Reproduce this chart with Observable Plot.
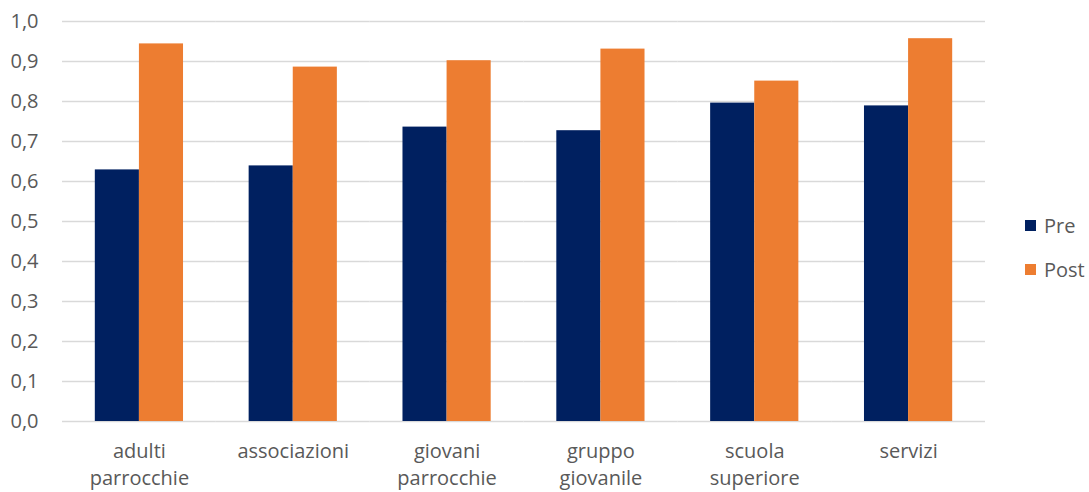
<!DOCTYPE html>
<html>
<head>
<meta charset="utf-8">
<script src="https://cdn.jsdelivr.net/npm/d3@7"></script>
<script src="https://cdn.jsdelivr.net/npm/@observablehq/plot@0.6"></script>
<style>
  html, body { margin: 0; padding: 0; background: #fff; }
  #wrap { position: relative; width: 1089px; height: 492px; font-family: "Open Sans", sans-serif; color: #595959; }
  #legend { position: absolute; left: 1025px; top: 210px; font-size: 20px; }
  .item { display: flex; align-items: center; height: 30px; margin-bottom: 14px; }
  .sw { width: 11px; height: 11px; margin-right: 8px; }
</style>
</head>
<body>
<div id="wrap"><div id="legend"></div></div>
<script>
const categories = ["adulti\nparrocchie", "associazioni", "giovani\nparrocchie", "gruppo\ngiovanile", "scuola\nsuperiore", "servizi"];
const series = ["Pre", "Post"];
const preValues = [0.629, 0.639, 0.736, 0.727, 0.796, 0.789];
const postValues = [0.944, 0.886, 0.902, 0.931, 0.851, 0.957];
const yTicks = [0, 0.1, 0.2, 0.3, 0.4, 0.5, 0.6, 0.7, 0.8, 0.9, 1.0];
const colors = ["#002060", "#ED7D31"];

const data = [];
categories.forEach((c, i) => {
  data.push({category: c, series: "Pre", value: preValues[i]});
  data.push({category: c, series: "Post", value: postValues[i]});
});

const chart = Plot.plot({
  width: 1089,
  height: 492,
  marginLeft: 62,
  marginRight: 104,
  marginTop: 21,
  marginBottom: 71,
  style: {fontFamily: "Open Sans, sans-serif", fontSize: "20px", color: "#595959", background: "#fff"},
  fx: {domain: categories, padding: 0, round: false, label: null},
  x: {domain: series, paddingInner: 0, paddingOuter: 0.744, round: false, axis: null},
  y: {domain: [0, 1], label: null},
  color: {domain: series, range: colors},
  marks: [
    Plot.gridY({ticks: yTicks, stroke: "#d9d9d9", strokeOpacity: 1, strokeWidth: 1.5}),
    Plot.axisY({ticks: yTicks, tickSize: 0, tickPadding: 24, label: null,
      tickFormat: d => d.toFixed(1).replace(".", ",")}),
    Plot.axisFx({anchor: "bottom", tickSize: 0, tickPadding: 18, lineHeight: 1.32, label: null}),
    Plot.barY(data, {fx: "category", x: "series", y: "value", fill: "series"})
  ]
});

const wrap = document.getElementById("wrap");
wrap.insertBefore(chart, wrap.firstChild);

const legend = document.getElementById("legend");
series.forEach((s, i) => {
  const item = document.createElement("div");
  item.className = "item";
  const sw = document.createElement("div");
  sw.className = "sw";
  sw.style.background = colors[i];
  const t = document.createElement("span");
  t.textContent = s;
  item.appendChild(sw);
  item.appendChild(t);
  legend.appendChild(item);
});
</script>
</body>
</html>
